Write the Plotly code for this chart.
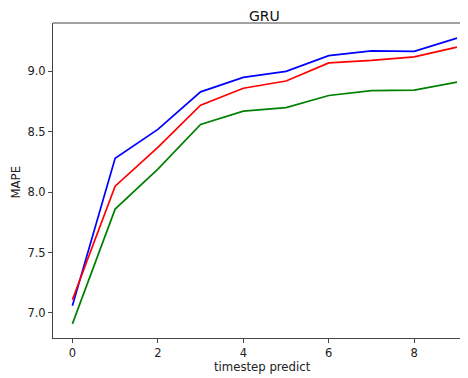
import plotly.graph_objects as go

steps = list(range(10))
blue_vals = [7.06, 8.28, 8.52, 8.83, 8.95, 9.00, 9.13, 9.17, 9.165, 9.275]
red_vals = [7.11, 8.05, 8.37, 8.72, 8.86, 8.92, 9.07, 9.09, 9.12, 9.20]
green_vals = [6.91, 7.86, 8.19, 8.56, 8.67, 8.70, 8.80, 8.84, 8.845, 8.91]
x_ticks = [0, 2, 4, 6, 8]
y_ticks = [7.0, 7.5, 8.0, 8.5, 9.0]

fig = go.Figure()
for vals, col in [(blue_vals, "#0000ff"), (red_vals, "#ff0000"), (green_vals, "#008000")]:
    fig.add_trace(go.Scatter(x=steps, y=vals, mode="lines",
                             line=dict(color=col, width=1.7), showlegend=False))

font = dict(family="DejaVu Sans", size=11.5, color="#222")
fig.update_layout(
    template="none",
    width=460, height=370,
    margin=dict(l=45, r=0, t=15, b=40, autoexpand=False),
    paper_bgcolor="white", plot_bgcolor="white",
    font=font,
    xaxis=dict(range=[-0.454, 9.258], tickvals=x_ticks, ticks="outside", ticklen=4,
               tickcolor="#444", showline=True, linecolor="#444", linewidth=1,
               showgrid=False, zeroline=False, tickfont=font, automargin=False),
    yaxis=dict(range=[6.793, 9.40], tickvals=y_ticks, tickformat=".1f",
               ticks="outside", ticklen=4, tickcolor="#444", showline=True,
               linecolor="#444", linewidth=1, showgrid=False, zeroline=False,
               tickfont=font, automargin=False),
    shapes=[dict(type="line", xref="paper", yref="paper", x0=0, x1=1, y0=1, y1=1,
                 line=dict(color="#444", width=1))],
    annotations=[
        dict(text="GRU", xref="paper", yref="paper", x=0.5105, y=1, yshift=7,
             yanchor="middle", xanchor="center", showarrow=False,
             font=dict(family="DejaVu Sans", size=14, color="#111")),
        dict(text="timestep predict", xref="paper", yref="paper", x=0.506, y=0,
             yshift=-29, yanchor="middle", xanchor="center", showarrow=False,
             font=dict(family="DejaVu Sans", size=11.7, color="#222")),
        dict(text="MAPE", xref="paper", yref="paper", x=0, y=0.495, xshift=-36.6,
             xanchor="center", yanchor="middle", textangle=-90, showarrow=False,
             font=dict(family="DejaVu Sans", size=11.7, color="#222")),
    ],
)
fig.write_html("out.html")
